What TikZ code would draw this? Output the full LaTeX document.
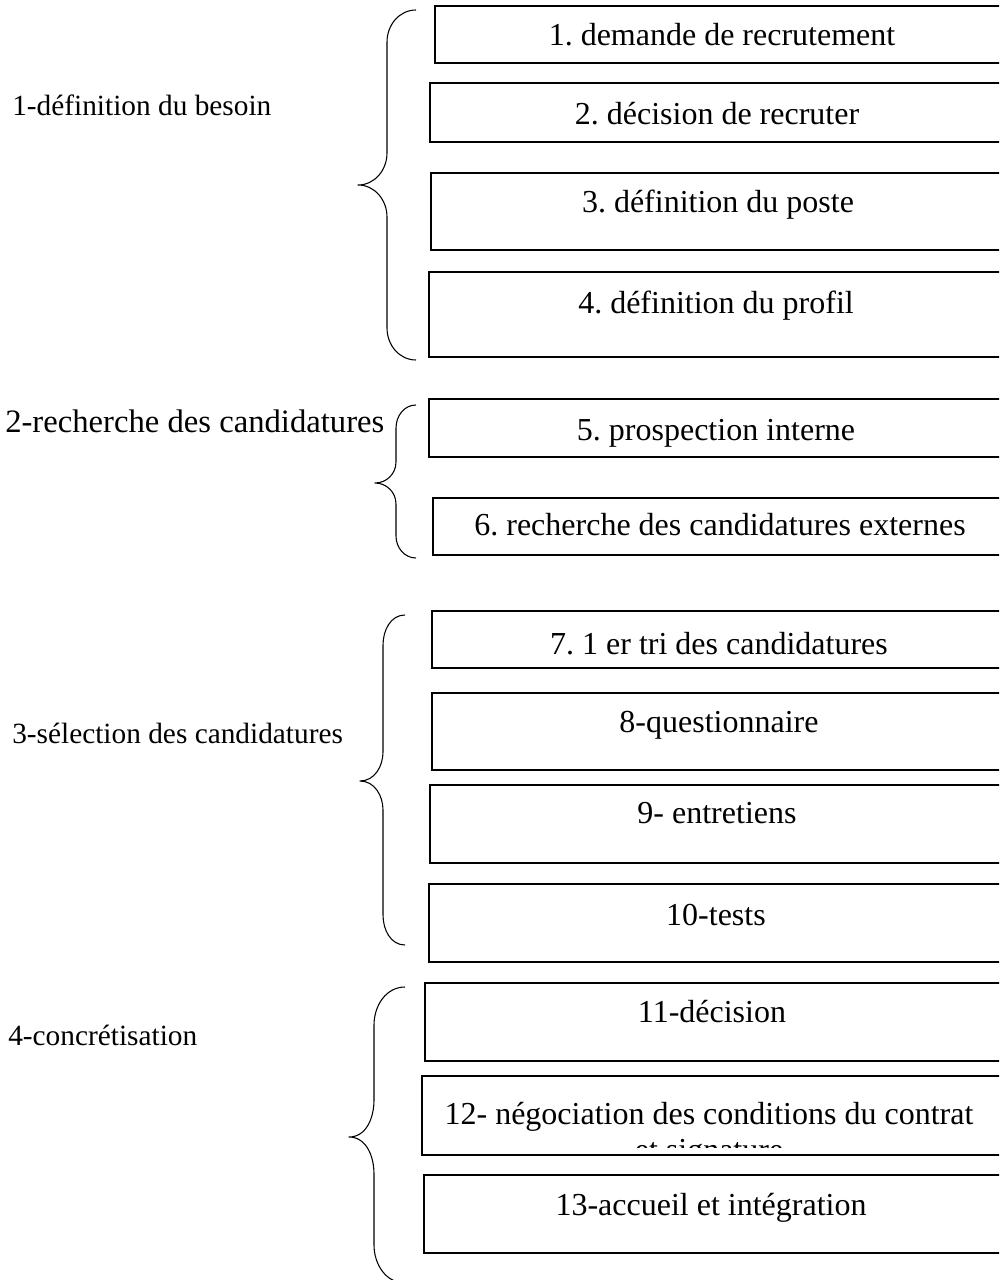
\documentclass[tikz,border=0pt]{standalone}
\usepackage{fontspec}
\setmainfont{Liberation Serif}
\usetikzlibrary{calc}
\frenchspacing

\begin{document}
\begin{tikzpicture}[x=0.75pt,y=-0.75pt,
    cadre/.style={anchor=north west, inner sep=0pt, outer sep=0pt,
                  minimum width=500pt, minimum height=#1*0.75pt},
    bord/.style={line width=1.1pt, line join=miter},
    etape/.style={anchor=base, inner sep=0pt, font=\fontsize{24}{28}\selectfont},
    phase/.style={anchor=base west, inner sep=0pt, font=\fontsize{22}{26}\selectfont},
    accol/.style={line width=0.8pt, line join=round}]
  \useasboundingbox (0,0) rectangle (999,1280);
  \clip (0,0) rectangle (999,1280);

  % phase 1
  \node[phase] (p1) at (12,116) {1-définition du besoin};
  \draw[accol] (416,10) to[out=180,in=90] (387,42) -- (387,153) to[out=270,in=0] (358,185)
    to[out=0,in=90] (387,217) -- (387,328) to[out=270,in=180] (416,360);
  \node[cadre=57] (b1) at (435,6) {};
  \node[cadre=59] (b2) at (430,83) {};
  \node[cadre=77] (b3) at (431,173) {};
  \node[cadre=85] (b4) at (429,272) {};
  \node[etape] (t1) at ($(b1.north west)+(287,40)$) {1. demande de recrutement};
  \node[etape] (t2) at ($(b2.north west)+(287,42)$) {2. décision de recruter};
  \node[etape] (t3) at ($(b3.north west)+(287,40)$) {3. définition du poste};
  \node[etape] (t4) at ($(b4.north west)+(287,41)$) {4. définition du profil};

  % phase 2
  \node[phase, font=\fontsize{24.5}{28}\selectfont] (p2) at (5,432) {2-recherche des candidatures};
  \draw[accol] (416,405) to[out=180,in=90] (396,428) -- (396,462) to[out=270,in=0] (375,483)
    to[out=0,in=90] (396,504) -- (396,536) to[out=270,in=180] (416,558);
  \node[cadre=58] (b5) at (429,399) {};
  \node[cadre=57] (b6) at (433,498) {};
  \node[etape] (t5) at ($(b5.north west)+(287,41)$) {5. prospection interne};
  \node[etape] (t6) at ($(b6.north west)+(287,37)$) {6. recherche des candidatures externes};

  % phase 3
  \node[phase] (p3) at (12,743) {3-sélection des candidatures};
  \draw[accol] (405,615) to[out=180,in=90] (383,645) -- (383,752) to[out=270,in=0] (360,781)
    to[out=0,in=90] (383,810) -- (383,915) to[out=270,in=180] (405,945);
  \node[cadre=57] (b7) at (432,611) {};
  \node[cadre=77] (b8) at (432,693) {};
  \node[cadre=78] (b9) at (430,785) {};
  \node[cadre=78] (b10) at (429,884) {};
  \node[etape] (t7) at ($(b7.north west)+(287,43)$) {7. 1 er tri des candidatures};
  \node[etape] (t8) at ($(b8.north west)+(287,39)$) {8-questionnaire};
  \node[etape] (t9) at ($(b9.north west)+(287,38)$) {9- entretiens};
  \node[etape] (t10) at ($(b10.north west)+(287,41)$) {10-tests};

  % phase 4
  \node[phase] (p4) at (8,1045) {4-concrétisation};
  \draw[accol] (405,987) to[out=180,in=90] (374,1025) -- (374,1100) to[out=270,in=0] (349,1137)
    to[out=0,in=90] (374,1174) -- (374,1245) to[out=270,in=180] (405,1283);
  \node[cadre=78] (b11) at (425,983) {};
  \node[cadre=79] (b12) at (422,1076) {};
  \node[cadre=78] (b13) at (424,1175) {};
  \node[etape] (t11) at ($(b11.north west)+(287,39)$) {11-décision};
  \node[etape] (t12) at ($(b12.north west)+(287,48)$) {12- négociation des conditions du contrat};
  \begin{scope}
    \clip (b12.north west) rectangle ($(b12.south east)+(0,-8)$);
    \node[etape] (t12b) at ($(t12.base)+(0,36)$) {et signature};
  \end{scope}
  \node[etape] (t13) at ($(b13.north west)+(287,40)$) {13-accueil et intégration};

  % bords des cadres, ouverts a droite (hors page)
  \foreach \b in {b1,b2,b3,b4,b5,b6,b7,b8,b9,b10,b11,b12,b13}
    \draw[bord] (\b.north east) -- (\b.north west) -- (\b.south west) -- (\b.south east);
\end{tikzpicture}
\end{document}
